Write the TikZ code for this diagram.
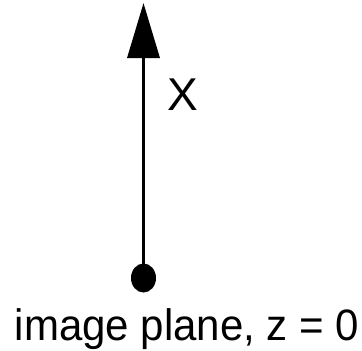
\documentclass[tikz,border=0pt]{standalone}
\usepackage{fontspec}
\setmainfont{Liberation Sans}
\usetikzlibrary{positioning,calc}
\usetikzlibrary{arrows.meta,shapes.geometric}
\tikzset{
	dot/.style={ellipse,fill=black,draw=none,minimum width=25pt,minimum height=29pt,inner sep=0pt},
	axis/.style={draw=black,line width=3.5pt,-{Triangle[length=55pt,width=32pt]}},
	lbl/.style={font=\fontsize{46}{52}\selectfont,inner sep=0pt},
}

\begin{document}
\begin{tikzpicture}[x=1pt,y=-1pt]
	\useasboundingbox (0,0) rectangle (362,351);
	\node[dot] (base) at (143.5,278) {};
	\coordinate (top) at (143.5,3);
	\draw[axis] (base.center) -- (top);
	\node[lbl] (xlab) at (183,95) {X};
	\node[lbl,font=\fontsize{44}{50}\selectfont,anchor=base,xscale=0.955] (plane) at (187,340) {image plane, z = 0};
\end{tikzpicture}
\end{document}
